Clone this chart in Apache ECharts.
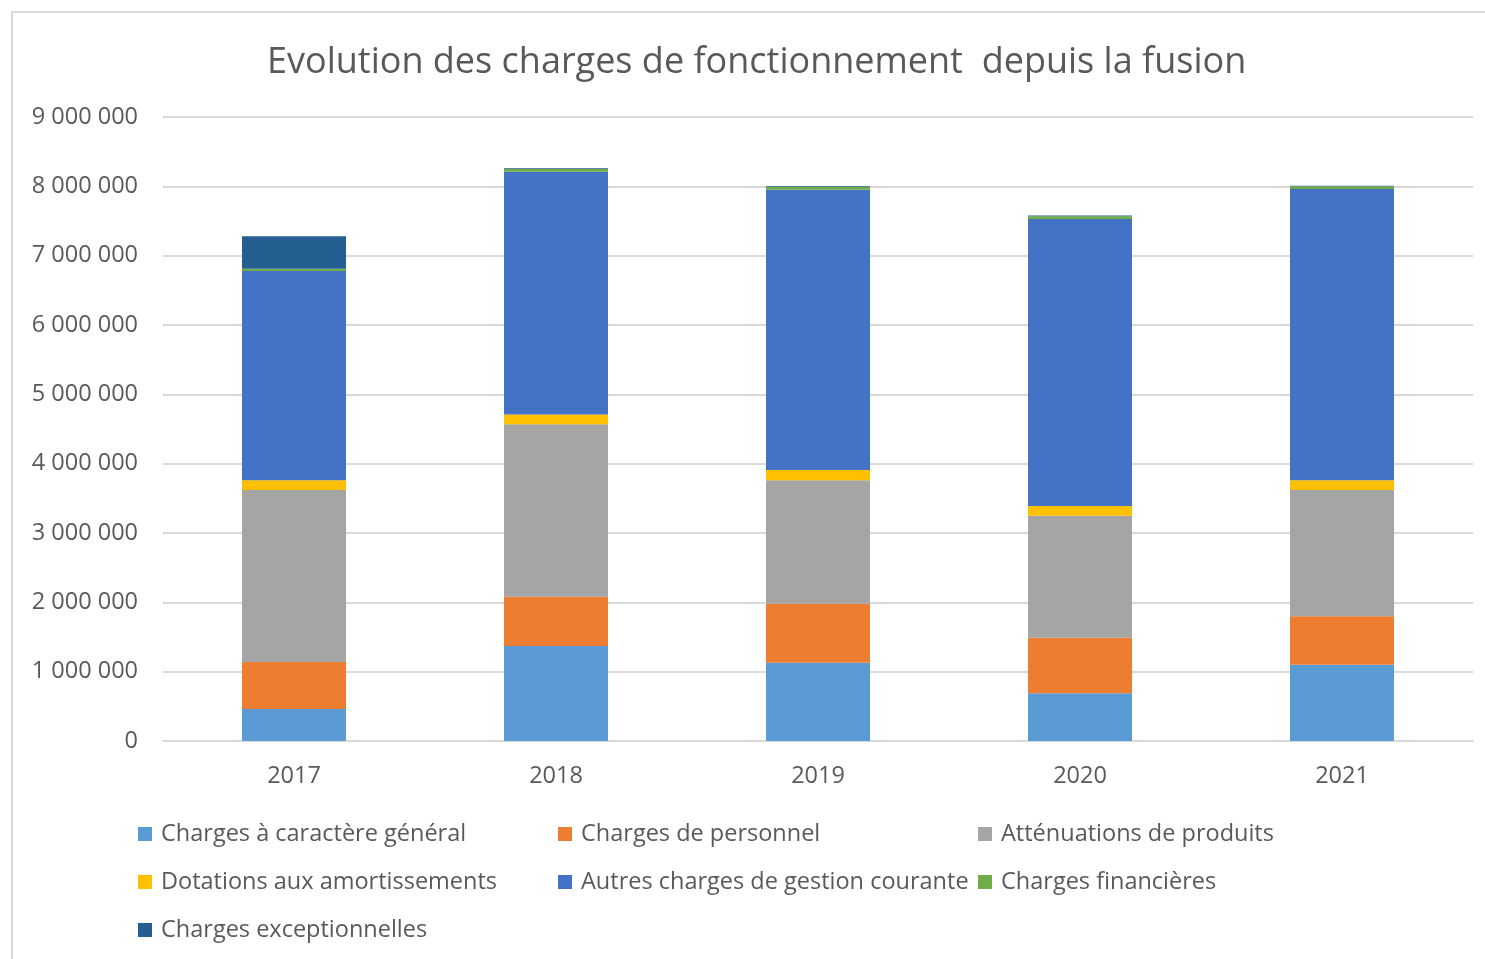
<!DOCTYPE html>
<html>
<head>
<meta charset="utf-8">
<script src="https://cdn.jsdelivr.net/npm/echarts@6/dist/echarts.min.js"></script>
<style>
  html, body { margin: 0; padding: 0; background: #fff; }
  #chart { width: 1485px; height: 959px; }
</style>
</head>
<body>
<div id="chart"></div>
<script>
const years = ['2017', '2018', '2019', '2020', '2021'];
const chargesGeneral = [460000, 1370000, 1130000, 690000, 1100000];
const chargesPersonnel = [680000, 710000, 850000, 800000, 700000];
const attenuations = [2480000, 2490000, 1780000, 1760000, 1820000];
const dotations = [140000, 140000, 150000, 140000, 140000];
const autresCharges = [3020000, 3500000, 4040000, 4140000, 4200000];
const chargesFinancieres = [30000, 40000, 40000, 40000, 40000];
const chargesExceptionnelles = [470000, 10000, 10000, 10000, 10000];

const font = '"Open Sans", sans-serif';
const txt = '#595959';

const fmt = v => String(v).replace(/\B(?=(\d{3})+(?!\d))/g, ' ');

const makeSeries = (name, data, color) => ({
    name: name,
    type: 'bar',
    stack: 'total',
    barWidth: 104,
    data: data,
    itemStyle: { color: color },
    emphasis: { disabled: true }
});

const legendCol = (left, names) => ({
    left: left, top: 817, orient: 'vertical', itemGap: 24,
    itemWidth: 14, itemHeight: 14, icon: 'rect', itemStyle: { borderWidth: 0 },
    textStyle: { color: txt, fontSize: 23.5, fontFamily: font, padding: [0, 0, 0, 4] },
    data: names
});

const myChart = echarts.init(document.getElementById('chart'));
myChart.setOption({
    backgroundColor: '#fff',
    animation: false,
    textStyle: { fontFamily: font },
    title: {
        text: 'Evolution des charges de fonctionnement  depuis la fusion',
        left: 262,
        top: 40,
        textStyle: { color: txt, fontSize: 36, fontWeight: 'normal', fontFamily: font }
    },
    graphic: [{
        type: 'rect',
        shape: { x: 12, y: 12, width: 1600, height: 1000 },
        style: { fill: 'none', stroke: '#d9d9d9', lineWidth: 2 },
        silent: true,
        z: -1
    }],
    legend: [
        legendCol(133, ['Charges à caractère général', 'Dotations aux amortissements', 'Charges exceptionnelles']),
        legendCol(553, ['Charges de personnel', 'Autres charges de gestion courante']),
        legendCol(973, ['Atténuations de produits', 'Charges financières'])
    ],
    grid: { left: 163, right: 12, top: 117, bottom: 218, containLabel: false },
    xAxis: {
        type: 'category',
        data: years,
        axisTick: { show: false },
        axisLine: { lineStyle: { color: '#d9d9d9', width: 2 } },
        axisLabel: { color: txt, fontSize: 23.5, margin: 23, fontFamily: font }
    },
    yAxis: {
        type: 'value',
        min: 0,
        max: 9000000,
        interval: 1000000,
        axisLine: { show: false },
        axisTick: { show: false },
        axisLabel: { color: txt, fontSize: 23.5, margin: 25, fontFamily: font, formatter: fmt },
        splitLine: { lineStyle: { color: '#d9d9d9', width: 2 } }
    },
    series: [
        makeSeries('Charges à caractère général', chargesGeneral, '#5B9BD5'),
        makeSeries('Charges de personnel', chargesPersonnel, '#ED7D31'),
        makeSeries('Atténuations de produits', attenuations, '#A5A5A5'),
        makeSeries('Dotations aux amortissements', dotations, '#FFC000'),
        makeSeries('Autres charges de gestion courante', autresCharges, '#4472C4'),
        makeSeries('Charges financières', chargesFinancieres, '#70AD47'),
        makeSeries('Charges exceptionnelles', chargesExceptionnelles, '#255E91')
    ]
});
</script>
</body>
</html>
